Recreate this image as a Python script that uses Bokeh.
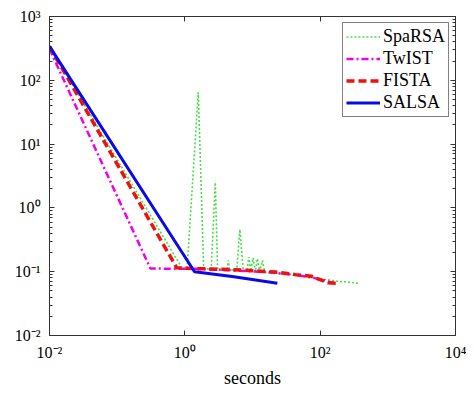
from bokeh.plotting import figure
from bokeh.models import Range1d, FixedTicker, LogAxis, Legend, LegendItem, CustomJSTickFormatter
from bokeh.embed import file_html
from bokeh.resources import INLINE

# ---- data ----
sparsa_t = [0.01, 0.92, 1.08, 1.58, 1.9, 2.45, 2.82, 3.05, 4.2, 4.4, 4.6, 5.85, 6.5, 7.3,
            8.3, 8.8, 9.4, 10.2, 11, 11.8, 12.8, 14, 15.2, 17, 22, 35, 60, 100, 180, 370]
sparsa_f = [340, 0.112, 0.112, 65, 0.11, 0.11, 2.5, 0.108, 0.108, 0.15, 0.107, 0.106, 0.46, 0.105,
            0.104, 0.17, 0.103, 0.165, 0.1, 0.16, 0.1, 0.15, 0.098, 0.097, 0.095, 0.09, 0.084, 0.078, 0.071, 0.066]

twist_t = [0.01, 0.31, 1.5, 5, 15, 40, 80, 120, 160]
twist_f = [310, 0.112, 0.111, 0.105, 0.099, 0.09, 0.08, 0.072, 0.066]

fista_t = [0.01, 0.76, 1.4, 5, 22, 43, 74, 100, 130, 180]
fista_f = [340, 0.115, 0.112, 0.108, 0.099, 0.09, 0.085, 0.075, 0.067, 0.066]

salsa_t = [0.01, 1.39, 5, 23.3]
salsa_f = [340, 0.1, 0.084, 0.066]

series_names = ["SpaRSA", "TwIST", "FISTA", "SALSA"]

x_ticks = [1e-2, 1e0, 1e2, 1e4]
x_tick_labels = ["10\u207b\u00b2", "10\u2070", "10\u00b2", "10\u2074"]
y_ticks = [1e-2, 1e-1, 1e0, 1e1, 1e2, 1e3]
y_tick_labels = ["10\u207b\u00b2", "10\u207b\u00b9", "10\u2070", "10\u00b9", "10\u00b2", "10\u00b3"]
y_minor = [m * 10.0 ** k for k in range(-2, 3) for m in range(2, 10)]

x_label = "seconds"

FONT = "Liberation Serif"
AX = "#333333"

p = figure(width=466, height=390, x_axis_type="log", y_axis_type="log",
           x_range=Range1d(1e-2, 1e4), y_range=Range1d(1e-2, 1e3),
           output_backend="svg", toolbar_location=None,
           min_border_left=49, min_border_right=11, min_border_top=16, min_border_bottom=50)
p.xgrid.visible = False
p.ygrid.visible = False
p.outline_line_color = AX
p.background_fill_color = "white"
p.border_fill_color = "white"

LABEL_JS = """
let best = 0, bd = Infinity;
for (let i = 0; i < tks.length; i++) {
  const d = Math.abs(Math.log10(tks[i]) - Math.log10(tick));
  if (d < bd) { bd = d; best = i; }
}
return lbls[best];
"""

def style_axis(ax, ticks, labels, minor, show_labels=True, standoff=9):
    ax.ticker = FixedTicker(ticks=ticks, minor_ticks=minor)
    ax.major_tick_in = 5
    ax.major_tick_out = 0
    ax.minor_tick_in = 3
    ax.minor_tick_out = 0
    ax.axis_line_color = AX
    ax.major_tick_line_color = AX
    ax.minor_tick_line_color = AX
    if show_labels:
        ax.formatter = CustomJSTickFormatter(args=dict(tks=ticks, lbls=labels), code=LABEL_JS)
        ax.major_label_text_font = FONT
        ax.major_label_text_font_size = "16px"
        ax.major_label_text_color = "black"
        ax.major_label_standoff = standoff
    else:
        ax.formatter = CustomJSTickFormatter(code="return '';")
        ax.major_label_text_font_size = "1px"
        ax.major_label_standoff = 0

style_axis(p.xaxis[0], x_ticks, x_tick_labels, [], standoff=8)
style_axis(p.yaxis[0], y_ticks, y_tick_labels, y_minor, standoff=9)
p.xaxis[0].axis_label = x_label
p.xaxis[0].axis_label_text_font = FONT
p.xaxis[0].axis_label_text_font_size = "18px"
p.xaxis[0].axis_label_text_font_style = "normal"
p.xaxis[0].axis_label_text_color = "black"
p.xaxis[0].axis_label_standoff = 4

top_ax = LogAxis()
style_axis(top_ax, x_ticks, x_tick_labels, [], show_labels=False)
p.add_layout(top_ax, "above")
right_ax = LogAxis()
style_axis(right_ax, y_ticks, y_tick_labels, y_minor, show_labels=False)
p.add_layout(right_ax, "right")

r1 = p.line(sparsa_t, sparsa_f, line_color="#44e044", line_width=1.6, line_dash="2 2")
r2 = p.line(twist_t, twist_f, line_color="#ee00ee", line_width=2.5, line_dash="7 3 2 3")
r3 = p.line(fista_t, fista_f, line_color="#f01010", line_width=3.5, line_dash="8 4")
r4 = p.line(salsa_t, salsa_f, line_color="#0a0ae6", line_width=3)

legend = Legend(items=[LegendItem(label=n, renderers=[r]) for n, r in zip(series_names, [r1, r2, r3, r4])],
                location="top_right")
legend.label_text_font = FONT
legend.label_text_font_size = "18px"
legend.label_text_color = "black"
legend.border_line_color = "black"
legend.border_line_width = 1
legend.padding = 3
legend.spacing = 1
legend.margin = 6
legend.glyph_width = 34
legend.glyph_height = 19
legend.label_height = 19
legend.label_standoff = 3
legend.background_fill_alpha = 1
p.add_layout(legend)

open("out.html", "w").write(file_html(p, INLINE))
